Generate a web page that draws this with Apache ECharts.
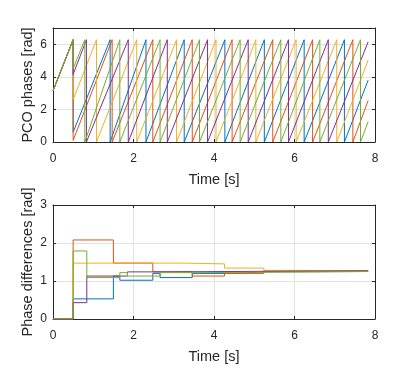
<!DOCTYPE html>
<html>
<head>
<meta charset="utf-8">
<script src="https://cdn.jsdelivr.net/npm/echarts@6/dist/echarts.min.js"></script>
<style>
html, body { margin: 0; padding: 0; background: #fff; }
#chart { width: 415px; height: 373px; }
</style>
</head>
<body>
<div id="chart"></div>
<script>
// MATLAB default colour order: blue, red, yellow, purple, green
const colors = ['#0072BD', '#D95319', '#EDB120', '#7E2F8E', '#77AC30'];
const TWO_PI = 6.28;

// top panel: all PCOs start together at pi, fire together at 0.5 s and get new phases
const startPhase = 3.14;
const kickTime = 0.5;
const kickPhases = [0.6, 0.1, 2.6, 4.15, 4.5];
const endTime = 7.83;
const endPhases = [3.8, 2.55, 5.03, 6.15, 1.25];

// firing (reset) times
const fireBlue = [1.42, 2.31, 3.26, 4.27, 5.25, 6.24, 7.24];
const fireRed = [1.47, 2.48, 3.46, 4.45, 5.46, 6.45, 7.45];
const fireYellow = [1.08, 2.08, 3.07, 4.05, 5.04, 6.04, 7.05];
const firePurple = [0.83, 1.87, 2.84, 3.84, 4.85, 5.85, 6.84];
const fireGreen = [0.79, 1.66, 2.66, 3.64, 4.65, 5.66, 6.63, 7.64];

// bottom panel: [time, phase difference] steps
const diffBlue = [[0, 0], [0.5, 0.53], [1.5, 1.13], [1.66, 1.02], [2.48, 1.2], [2.66, 1.09], [3.46, 1.2], [4.46, 1.24], [5.25, 1.25], [7.83, 1.26]];
const diffRed = [[0, 0], [0.5, 2.08], [1.5, 1.47], [2.48, 1.24], [3.46, 1.13], [4.26, 1.2], [5.24, 1.27], [6.26, 1.26], [7.83, 1.26]];
const diffYellow = [[0, 0], [0.5, 1.47], [3.28, 1.45], [4.26, 1.34], [5.24, 1.28], [6.26, 1.26], [7.83, 1.26]];
const diffPurple = [[0, 0], [0.5, 0.43], [0.84, 1.13], [1.85, 1.24], [2.84, 1.27], [7.83, 1.26]];
const diffGreen = [[0, 0], [0.5, 1.79], [0.84, 1.09], [1.66, 1.22], [1.85, 1.13], [2.66, 1.22], [3.64, 1.25], [7.83, 1.26]];

const fires = [fireBlue, fireRed, fireYellow, firePurple, fireGreen];
const diffs = [diffBlue, diffRed, diffYellow, diffPurple, diffGreen];

const font = 'Liberation Sans, Arial, Helvetica, sans-serif';
const textColor = '#262626';
const gridColor = '#e2e2e2';

const sawtooth = (i) => {
  const pts = [[0, startPhase], [kickTime, TWO_PI], [kickTime, kickPhases[i]]];
  fires[i].forEach(t => {
    pts.push([t, TWO_PI], [t, 0]);
  });
  pts.push([endTime, endPhases[i]]);
  return pts;
};

const axisLine = {onZero: false, lineStyle: {color: textColor, width: 1}};
const axisTick = {inside: true, length: 3, lineStyle: {color: textColor, width: 1}};

const makeX = (grid) => [{
  type: 'value', gridIndex: grid, min: 0, max: 8, interval: 2, position: 'bottom',
  name: 'Time [s]', nameLocation: 'middle', nameGap: 30,
  nameTextStyle: {fontFamily: font, fontSize: 14.5, color: textColor},
  axisLine: axisLine, axisTick: axisTick,
  axisLabel: {margin: 11, fontSize: 12, color: textColor, fontFamily: font},
  splitLine: {show: true, lineStyle: {color: gridColor, width: 1}}
}, {
  type: 'value', gridIndex: grid, min: 0, max: 8, interval: 2, position: 'top',
  axisLine: axisLine, axisTick: axisTick,
  axisLabel: {show: false}, splitLine: {show: false}
}];

const makeY = (grid, name, max, interval) => [{
  type: 'value', gridIndex: grid, min: 0, max: max, interval: interval, position: 'left',
  name: name, nameLocation: 'middle', nameGap: 18, nameMoveOverlap: false,
  nameTextStyle: {fontFamily: font, fontSize: 14.5, color: textColor},
  axisLine: axisLine, axisTick: axisTick,
  axisLabel: {margin: 6, fontSize: 12, color: textColor, fontFamily: font, showMaxLabel: max % interval === 0},
  splitLine: {show: true, lineStyle: {color: gridColor, width: 1}}
}, {
  type: 'value', gridIndex: grid, min: 0, max: max, interval: interval, position: 'right',
  axisLine: axisLine, axisTick: axisTick,
  axisLabel: {show: false}, splitLine: {show: false}
}];

const series = [];
colors.forEach((c, i) => {
  series.push({
    type: 'line', xAxisIndex: 0, yAxisIndex: 0, data: sawtooth(i),
    showSymbol: false, lineStyle: {color: c, width: 1}, itemStyle: {color: c}
  });
});
colors.forEach((c, i) => {
  series.push({
    type: 'line', xAxisIndex: 2, yAxisIndex: 2, data: diffs[i], step: 'end',
    showSymbol: false, lineStyle: {color: c, width: 1}, itemStyle: {color: c}
  });
});

const chart = echarts.init(document.getElementById('chart'));
chart.setOption({
  animation: false,
  backgroundColor: '#fff',
  grid: [
    {left: 53, top: 28, width: 322, height: 114},
    {left: 53, top: 205, width: 322, height: 114}
  ],
  xAxis: makeX(0).concat(makeX(1)),
  yAxis: makeY(0, 'PCO phases [rad]', 7, 2).concat(makeY(1, 'Phase differences [rad]', 3, 1)),
  series: series
});
</script>
</body>
</html>
